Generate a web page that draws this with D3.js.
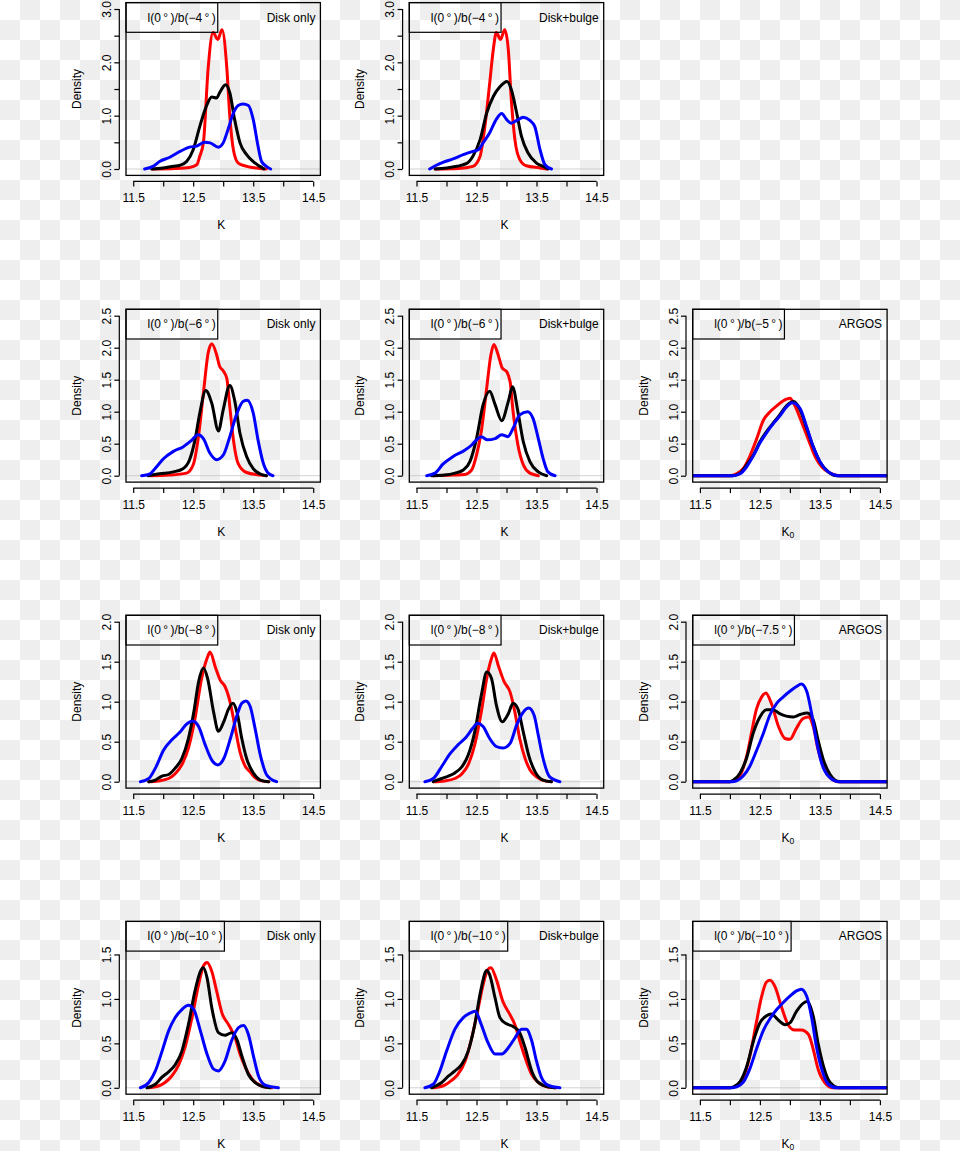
<!DOCTYPE html>
<html><head><meta charset="utf-8">
<script src="https://cdn.jsdelivr.net/npm/d3@7"></script>
<style>
body{margin:0;background:#fff;}
svg{display:block;font-family:"Liberation Sans",Arial,Helvetica,sans-serif;
 background-color:#fff;
 background-image:repeating-conic-gradient(#eeeeee 0 25%, #ffffff 0 50%);
 background-size:40px 40px; background-position:0 0;}
</style>
</head><body><svg id="chart" width="960" height="1151"></svg>
<script>
// ---------- DATA: [K, density] ----------
const b4_disk_red = [[11.81,0],[12.2,0.01],[12.44,0.03],[12.56,0.08],[12.61,0.24],[12.67,0.49],[12.75,1.9],[12.83,2.56],[12.91,2.43],[12.98,2.61],[13.06,1.9],[13.11,0.99],[13.17,0.36],[13.25,0.11],[13.39,0.05],[13.61,0.01],[13.72,0]];
const b4_disk_black = [[11.81,0],[12.0,0.02],[12.17,0.05],[12.28,0.07],[12.39,0.14],[12.5,0.36],[12.61,0.8],[12.72,1.18],[12.81,1.35],[12.89,1.33],[12.94,1.43],[13.04,1.58],[13.11,1.43],[13.19,0.93],[13.28,0.49],[13.39,0.27],[13.5,0.14],[13.61,0.05],[13.68,0]];
const b4_disk_blue = [[11.69,0],[11.83,0.05],[11.94,0.14],[12.11,0.22],[12.28,0.33],[12.44,0.41],[12.56,0.43],[12.69,0.5],[12.78,0.49],[12.92,0.41],[13.0,0.49],[13.08,0.74],[13.17,1.05],[13.25,1.19],[13.33,1.22],[13.42,1.19],[13.5,0.93],[13.58,0.43],[13.64,0.14],[13.72,0.05],[13.79,0]];

const b4_bulge_red = [[11.81,0],[12.2,0.01],[12.44,0.05],[12.56,0.24],[12.64,0.8],[12.72,1.61],[12.78,2.24],[12.83,2.56],[12.9,2.43],[12.97,2.61],[13.03,2.24],[13.08,1.3],[13.14,0.55],[13.22,0.18],[13.33,0.06],[13.56,0.02],[13.67,0]];
const b4_bulge_black = [[11.81,0],[12.0,0.02],[12.17,0.05],[12.33,0.1],[12.44,0.24],[12.56,0.55],[12.67,1.05],[12.78,1.36],[12.89,1.54],[13.01,1.64],[13.08,1.49],[13.17,1.05],[13.25,0.61],[13.36,0.3],[13.5,0.11],[13.61,0.05],[13.69,0]];
const b4_bulge_blue = [[11.72,0],[11.83,0.07],[11.94,0.125],[12.11,0.19],[12.28,0.27],[12.44,0.33],[12.53,0.36],[12.61,0.49],[12.72,0.68],[12.83,0.93],[12.92,1.04],[13.0,0.93],[13.08,0.86],[13.17,0.91],[13.28,0.97],[13.39,0.91],[13.47,0.8],[13.56,0.36],[13.64,0.08],[13.75,0]];

const b6_disk_red = [[11.78,0],[12.1,0.01],[12.39,0.04],[12.5,0.17],[12.58,0.56],[12.67,1.29],[12.75,1.92],[12.81,2.06],[12.89,1.89],[12.94,1.71],[13.0,1.64],[13.06,1.52],[13.11,1.08],[13.17,0.56],[13.25,0.19],[13.39,0.05],[13.61,0.01],[13.72,0]];
const b6_disk_black = [[11.75,0],[11.94,0.03],[12.17,0.06],[12.33,0.11],[12.44,0.25],[12.53,0.56],[12.61,0.98],[12.71,1.33],[12.81,1.13],[12.92,0.7],[13.0,1.03],[13.11,1.41],[13.19,1.18],[13.28,0.66],[13.39,0.3],[13.5,0.11],[13.61,0.03],[13.72,0]];
const b6_disk_blue = [[11.64,0],[11.78,0.03],[11.89,0.14],[12.0,0.26],[12.17,0.38],[12.33,0.45],[12.47,0.55],[12.58,0.64],[12.67,0.58],[12.78,0.35],[12.89,0.25],[13.0,0.32],[13.11,0.61],[13.22,0.95],[13.33,1.16],[13.4,1.18],[13.5,0.98],[13.58,0.56],[13.67,0.19],[13.75,0.04],[13.83,0]];

const b6_bulge_red = [[11.78,0],[12.1,0.01],[12.31,0.02],[12.42,0.09],[12.5,0.32],[12.58,0.69],[12.67,1.37],[12.74,1.89],[12.79,2.05],[12.86,1.89],[12.93,1.68],[13.0,1.63],[13.06,1.47],[13.11,1.0],[13.19,0.48],[13.28,0.17],[13.39,0.04],[13.53,0]];
const b6_bulge_black = [[11.75,0],[11.97,0.01],[12.14,0.04],[12.28,0.09],[12.39,0.22],[12.5,0.58],[12.61,1.11],[12.72,1.32],[12.81,1.11],[12.92,0.86],[13.03,1.16],[13.1,1.39],[13.19,1.0],[13.28,0.53],[13.39,0.22],[13.53,0.06],[13.67,0]];
const b6_bulge_blue = [[11.67,0],[11.81,0.04],[11.94,0.18],[12.11,0.3],[12.31,0.4],[12.42,0.48],[12.5,0.56],[12.58,0.61],[12.68,0.56],[12.81,0.58],[12.92,0.64],[13.02,0.61],[13.11,0.74],[13.22,0.95],[13.35,1.0],[13.44,0.9],[13.53,0.58],[13.61,0.27],[13.69,0.06],[13.81,0]];

const b5_argos_red = [[11.3,0],[12.0,0],[12.11,0.03],[12.22,0.11],[12.33,0.3],[12.44,0.56],[12.56,0.87],[12.67,1.0],[12.78,1.09],[12.89,1.17],[13.0,1.21],[13.08,1.1],[13.19,0.85],[13.31,0.56],[13.42,0.3],[13.53,0.14],[13.67,0.04],[13.83,0],[14.7,0]];
const b5_argos_black = [[11.3,0],[12.05,0],[12.17,0.04],[12.28,0.17],[12.39,0.32],[12.5,0.53],[12.61,0.69],[12.72,0.82],[12.83,0.95],[12.94,1.09],[13.06,1.16],[13.17,1.03],[13.28,0.74],[13.39,0.45],[13.5,0.22],[13.64,0.06],[13.78,0],[14.7,0]];
const b5_argos_blue = [[11.3,0],[12.05,0],[12.17,0.03],[12.28,0.14],[12.39,0.31],[12.5,0.51],[12.61,0.67],[12.72,0.81],[12.83,0.93],[12.94,1.07],[13.04,1.14],[13.17,1.05],[13.28,0.76],[13.39,0.45],[13.5,0.22],[13.64,0.06],[13.81,0],[14.7,0]];

const b8_disk_red = [[11.76,0],[11.92,0.01],[12.09,0.04],[12.2,0.1],[12.31,0.21],[12.42,0.42],[12.53,0.79],[12.64,1.29],[12.73,1.54],[12.78,1.62],[12.87,1.43],[12.95,1.27],[13.03,1.19],[13.12,0.98],[13.2,0.67],[13.28,0.37],[13.37,0.19],[13.45,0.12],[13.53,0.05],[13.64,0.01],[13.76,0]];
const b8_disk_black = [[11.76,0],[11.87,0.02],[11.98,0.07],[12.09,0.09],[12.2,0.17],[12.31,0.29],[12.42,0.54],[12.51,0.87],[12.59,1.25],[12.67,1.42],[12.74,1.29],[12.84,0.87],[12.92,0.63],[13.01,0.75],[13.09,0.91],[13.16,0.98],[13.23,0.87],[13.31,0.54],[13.39,0.29],[13.51,0.1],[13.62,0.02],[13.76,0]];
const b8_disk_blue = [[11.62,0],[11.76,0.04],[11.87,0.17],[12.01,0.4],[12.14,0.52],[12.28,0.62],[12.39,0.72],[12.49,0.76],[12.59,0.69],[12.7,0.46],[12.81,0.27],[12.91,0.21],[13.01,0.29],[13.12,0.54],[13.23,0.83],[13.31,0.98],[13.38,1.01],[13.45,0.94],[13.53,0.67],[13.62,0.33],[13.73,0.08],[13.89,0]];

const b8_bulge_red = [[11.78,0],[11.97,0.01],[12.14,0.04],[12.26,0.1],[12.36,0.21],[12.47,0.46],[12.58,0.87],[12.68,1.33],[12.75,1.54],[12.79,1.61],[12.86,1.46],[12.96,1.25],[13.06,1.12],[13.14,0.87],[13.22,0.54],[13.31,0.29],[13.39,0.15],[13.5,0.06],[13.64,0.01],[13.75,0]];
const b8_bulge_black = [[11.78,0],[11.92,0.04],[12.03,0.07],[12.14,0.11],[12.26,0.19],[12.36,0.33],[12.47,0.62],[12.58,1.08],[12.67,1.37],[12.75,1.29],[12.83,0.96],[12.93,0.75],[13.03,0.85],[13.11,0.98],[13.19,0.91],[13.28,0.62],[13.37,0.33],[13.48,0.12],[13.61,0.02],[13.75,0]];
const b8_bulge_blue = [[11.64,0],[11.78,0.04],[11.92,0.19],[12.06,0.35],[12.19,0.46],[12.33,0.56],[12.44,0.67],[12.52,0.73],[12.61,0.69],[12.72,0.54],[12.83,0.44],[12.94,0.42],[13.06,0.48],[13.17,0.71],[13.28,0.87],[13.37,0.92],[13.46,0.83],[13.53,0.58],[13.61,0.29],[13.72,0.06],[13.89,0]];

const b75_argos_red = [[11.3,0],[12.0,0],[12.11,0.02],[12.19,0.11],[12.28,0.32],[12.36,0.61],[12.44,0.9],[12.53,1.06],[12.6,1.11],[12.69,0.98],[12.81,0.69],[12.92,0.54],[13.0,0.53],[13.11,0.67],[13.22,0.79],[13.31,0.81],[13.39,0.69],[13.47,0.4],[13.56,0.19],[13.67,0.05],[13.81,0],[14.7,0]];
const b75_argos_black = [[11.3,0],[12.0,0],[12.06,0.02],[12.17,0.11],[12.28,0.3],[12.39,0.61],[12.5,0.81],[12.61,0.9],[12.72,0.9],[12.83,0.85],[12.94,0.82],[13.06,0.81],[13.17,0.84],[13.29,0.86],[13.39,0.77],[13.47,0.52],[13.56,0.27],[13.67,0.09],[13.83,0],[14.7,0]];
const b75_argos_blue = [[11.3,0],[12.03,0],[12.11,0.01],[12.22,0.07],[12.33,0.19],[12.44,0.38],[12.56,0.61],[12.67,0.84],[12.78,0.98],[12.89,1.06],[13.0,1.13],[13.11,1.19],[13.19,1.22],[13.28,1.13],[13.36,0.86],[13.44,0.52],[13.53,0.23],[13.64,0.07],[13.81,0],[14.7,0]];

const b10_disk_red = [[11.76,0],[11.92,0.02],[12.03,0.06],[12.14,0.13],[12.26,0.26],[12.37,0.47],[12.48,0.79],[12.59,1.16],[12.67,1.37],[12.73,1.41],[12.81,1.31],[12.89,1.09],[12.98,0.84],[13.09,0.71],[13.2,0.56],[13.28,0.38],[13.37,0.23],[13.48,0.1],[13.64,0.02],[13.81,0]];
const b10_disk_black = [[11.73,0],[11.87,0.04],[11.98,0.12],[12.09,0.18],[12.2,0.26],[12.31,0.41],[12.42,0.71],[12.53,1.09],[12.62,1.31],[12.67,1.35],[12.73,1.24],[12.81,0.9],[12.92,0.62],[13.03,0.59],[13.14,0.62],[13.23,0.54],[13.31,0.36],[13.42,0.15],[13.53,0.06],[13.67,0.01],[13.78,0]];
const b10_disk_blue = [[11.62,0],[11.76,0.06],[11.87,0.19],[11.98,0.41],[12.09,0.64],[12.2,0.79],[12.31,0.88],[12.42,0.93],[12.51,0.88],[12.62,0.64],[12.73,0.38],[12.84,0.21],[12.92,0.19],[13.03,0.3],[13.14,0.53],[13.26,0.68],[13.34,0.7],[13.42,0.6],[13.51,0.34],[13.59,0.13],[13.7,0.03],[13.92,0]];

const b10_bulge_red = [[11.78,0],[11.97,0.03],[12.08,0.08],[12.19,0.15],[12.31,0.3],[12.42,0.56],[12.53,0.9],[12.61,1.16],[12.69,1.33],[12.74,1.35],[12.83,1.22],[12.94,0.97],[13.06,0.82],[13.14,0.71],[13.22,0.53],[13.31,0.34],[13.42,0.15],[13.53,0.06],[13.69,0.01],[13.83,0]];
const b10_bulge_black = [[11.75,0],[11.92,0.06],[12.03,0.13],[12.14,0.19],[12.25,0.26],[12.36,0.41],[12.47,0.71],[12.57,1.09],[12.67,1.32],[12.72,1.27],[12.81,1.01],[12.89,0.79],[13.0,0.72],[13.11,0.69],[13.22,0.62],[13.31,0.45],[13.42,0.19],[13.53,0.06],[13.69,0.01],[13.81,0]];
const b10_bulge_blue = [[11.64,0],[11.78,0.04],[11.89,0.19],[12.0,0.41],[12.14,0.66],[12.28,0.79],[12.39,0.84],[12.48,0.86],[12.58,0.71],[12.69,0.51],[12.81,0.38],[12.92,0.38],[13.03,0.45],[13.14,0.56],[13.25,0.66],[13.33,0.66],[13.42,0.53],[13.5,0.3],[13.58,0.12],[13.69,0.03],[13.89,0]];

const b10_argos_red = [[11.3,0],[12.0,0],[12.11,0.02],[12.22,0.11],[12.33,0.35],[12.44,0.73],[12.53,1.03],[12.61,1.19],[12.67,1.21],[12.75,1.14],[12.86,0.91],[12.97,0.71],[13.08,0.65],[13.19,0.65],[13.31,0.6],[13.39,0.43],[13.47,0.21],[13.58,0.06],[13.72,0],[14.7,0]];
const b10_argos_black = [[11.3,0],[12.0,0],[12.06,0.01],[12.17,0.07],[12.28,0.24],[12.39,0.52],[12.5,0.73],[12.61,0.81],[12.69,0.83],[12.81,0.76],[12.92,0.71],[13.0,0.73],[13.11,0.86],[13.22,0.95],[13.29,0.97],[13.39,0.8],[13.47,0.5],[13.56,0.24],[13.67,0.06],[13.83,0],[14.7,0]];
const b10_argos_blue = [[11.3,0],[12.03,0],[12.11,0.01],[12.22,0.06],[12.33,0.21],[12.44,0.43],[12.56,0.65],[12.67,0.78],[12.78,0.88],[12.89,0.96],[13.0,1.03],[13.11,1.09],[13.19,1.11],[13.28,1.03],[13.36,0.8],[13.44,0.47],[13.53,0.21],[13.64,0.04],[13.78,0],[14.7,0]];

// axis / label data
const xTicks = [11.5, 12.0, 12.5, 13.0, 13.5, 14.0, 14.5];
const xTickLabels = ["11.5", "", "12.5", "", "13.5", "", "14.5"];
const rowYMax = [3.0, 2.5, 2.0, 1.8];
const rowYTicks = [[0,0.5,1,1.5,2,2.5,3],[0,0.5,1,1.5,2,2.5],[0,0.5,1,1.5,2],[0,0.5,1,1.5]];
const rowYLabelEvery = [2, 1, 1, 1];
const rowBLabels = ["−4", "−6", "−8", "−10"];
const argosBLabels = [null, "−5", "−7.5", "−10"];
const colTags = ["Disk only", "Disk+bulge", "ARGOS"];
const seriesColors = ["#ff0000", "#000000", "#0000ff"];

const panels = [
  {r:0,c:0,b:rowBLabels[0],series:[b4_disk_red,b4_disk_black,b4_disk_blue]},
  {r:0,c:1,b:rowBLabels[0],series:[b4_bulge_red,b4_bulge_black,b4_bulge_blue]},
  {r:1,c:0,b:rowBLabels[1],series:[b6_disk_red,b6_disk_black,b6_disk_blue]},
  {r:1,c:1,b:rowBLabels[1],series:[b6_bulge_red,b6_bulge_black,b6_bulge_blue]},
  {r:1,c:2,b:argosBLabels[1],series:[b5_argos_red,b5_argos_black,b5_argos_blue]},
  {r:2,c:0,b:rowBLabels[2],series:[b8_disk_red,b8_disk_black,b8_disk_blue]},
  {r:2,c:1,b:rowBLabels[2],series:[b8_bulge_red,b8_bulge_black,b8_bulge_blue]},
  {r:2,c:2,b:argosBLabels[2],series:[b75_argos_red,b75_argos_black,b75_argos_blue]},
  {r:3,c:0,b:rowBLabels[3],series:[b10_disk_red,b10_disk_black,b10_disk_blue]},
  {r:3,c:1,b:rowBLabels[3],series:[b10_bulge_red,b10_bulge_black,b10_bulge_blue]},
  {r:3,c:2,b:argosBLabels[3],series:[b10_argos_red,b10_argos_black,b10_argos_blue]}
];

// ---------- LAYOUT ----------
const colLeft = [126, 409.3, 692.7];
const rowTop = [2.6, 309.3, 615.3, 921.4];
const boxW = 194.4, boxH = 172.8;
const FS = 12;

const svg = d3.select("#chart");
const defs = svg.append("defs");

panels.forEach((p, i) => {
  const L = colLeft[p.c], T = rowTop[p.r];
  const ymax = rowYMax[p.r];
  const x = d3.scaleLinear().domain([11.5 - 0.12, 14.5 + 0.12]).range([L, L + boxW]);
  const y = d3.scaleLinear().domain([-0.04 * ymax, 1.04 * ymax]).range([T + boxH, T]);
  const g = svg.append("g");

  defs.append("clipPath").attr("id", "clip" + i)
    .append("rect").attr("x", L).attr("y", T).attr("width", boxW).attr("height", boxH);

  // zero line
  g.append("line").attr("x1", L).attr("x2", L + boxW).attr("y1", y(0)).attr("y2", y(0))
    .attr("stroke", "#bebebe").attr("stroke-width", 0.7);

  // curves
  const line = d3.line().x(d => x(d[0])).y(d => y(d[1])).curve(d3.curveMonotoneX);
  const cg = g.append("g").attr("clip-path", "url(#clip" + i + ")");
  p.series.forEach((s, k) => {
    cg.append("path").attr("d", line(s)).attr("fill", "none")
      .attr("stroke", seriesColors[k]).attr("stroke-width", 3)
      .attr("stroke-linejoin", "round").attr("stroke-linecap", "round");
  });

  // box
  g.append("rect").attr("x", L).attr("y", T).attr("width", boxW).attr("height", boxH)
    .attr("fill", "none").attr("stroke", "#000").attr("stroke-width", 1.3);

  // x axis (offset below box)
  const xa = g.append("g").attr("transform", `translate(0,${T + boxH + 6})`)
    .call(d3.axisBottom(x).tickValues(xTicks).tickSize(5).tickSizeOuter(0)
      .tickFormat((d, j) => xTickLabels[j]));
  xa.select(".domain").remove();
  xa.append("line").attr("x1", x(xTicks[0])).attr("x2", x(xTicks[xTicks.length - 1]))
    .attr("stroke", "#000").attr("stroke-width", 1.2);
  xa.selectAll(".tick line").attr("stroke", "#000").attr("stroke-width", 1.2);
  xa.selectAll(".tick text").attr("y", 16.6).attr("dy", "0.35em")
    .attr("font-size", FS).attr("font-family", null).attr("fill", "#000");

  // y axis (offset left of box)
  const yt = rowYTicks[p.r];
  const every = rowYLabelEvery[p.r];
  const ya = g.append("g").attr("transform", `translate(${L - 6.7},0)`)
    .call(d3.axisLeft(y).tickValues(yt).tickSize(5).tickSizeOuter(0)
      .tickFormat((d, j) => (j % every === 0 ? d3.format(".1f")(d) : "")));
  ya.select(".domain").remove();
  ya.append("line").attr("y1", y(yt[0])).attr("y2", y(yt[yt.length - 1]))
    .attr("stroke", "#000").attr("stroke-width", 1.2);
  ya.selectAll(".tick line").attr("stroke", "#000").attr("stroke-width", 1.2);
  ya.selectAll(".tick text").attr("x", null).attr("dy", "0.35em")
    .attr("text-anchor", "middle").attr("transform", "translate(-12.6,0) rotate(-90)")
    .attr("font-size", FS).attr("font-family", null).attr("fill", "#000");

  // axis titles
  const xl = g.append("text").attr("x", L + boxW / 2 - 2).attr("y", T + boxH + 49.5).attr("dy", "0.35em")
    .attr("text-anchor", "middle").attr("font-size", FS).text("K");
  if (p.c === 2) xl.append("tspan").attr("font-size", 8.5).attr("dy", 2.3).text("0");
  g.append("text").attr("transform", `translate(${L - 49.3},${T + boxH / 2}) rotate(-90)`)
    .attr("dy", "0.35em").attr("text-anchor", "middle").attr("font-size", FS).text("Density");

  // legend box with field label
  const lt = g.append("text").attr("y", T + 14.7).attr("dy", "0.35em").attr("font-size", FS)
    .attr("text-anchor", "end").text("l(0\u2009°\u2009)/b(" + p.b + "\u2009°\u2009)");
  const tw = lt.node().getComputedTextLength();
  const lw = tw + 23.5;
  lt.attr("x", L + lw - 2);
  g.append("rect").attr("x", L).attr("y", T).attr("width", lw).attr("height", 29.7)
    .attr("fill", "none").attr("stroke", "#000").attr("stroke-width", 1.2);

  // model tag
  g.append("text").attr("x", L + boxW - 5).attr("y", T + 14.7).attr("dy", "0.35em")
    .attr("text-anchor", "end").attr("font-size", FS).text(colTags[p.c]);
});
</script>
</body></html>
